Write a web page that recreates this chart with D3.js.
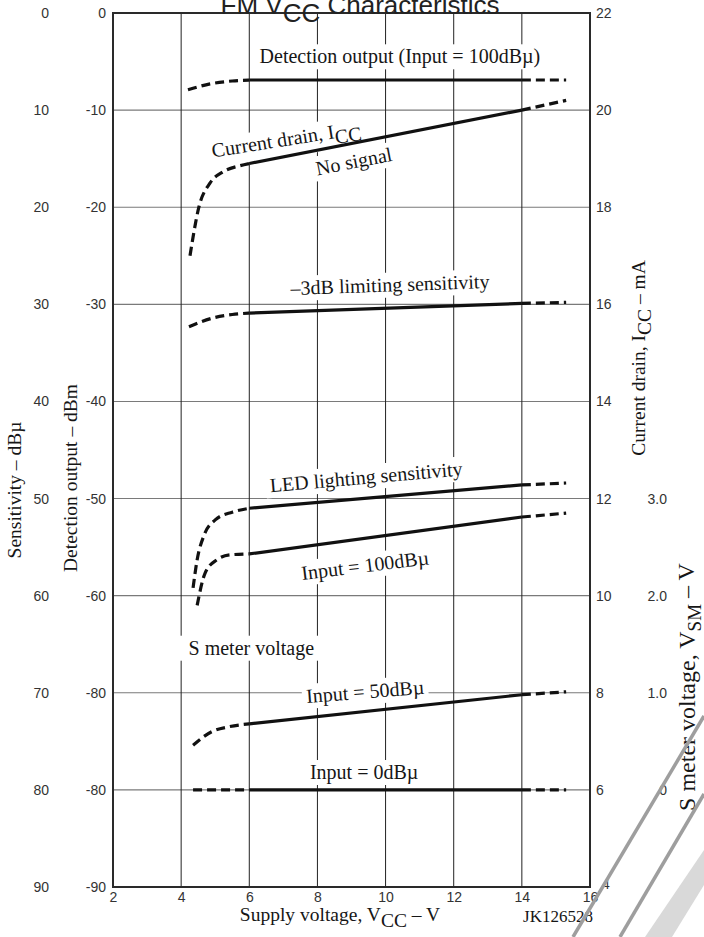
<!DOCTYPE html>
<html>
<head>
<meta charset="utf-8">
<script src="https://cdn.jsdelivr.net/npm/d3@7"></script>
<style>
  body { margin: 0; background: #fff; }
  svg { display: block; }
  .tick text { font-family: 'Liberation Sans', Arial, sans-serif; font-size: 14px; fill: #333; }
  .serif { font-family: 'Liberation Serif', 'Times New Roman', serif; fill: #161616; }
</style>
</head>
<body>
<svg id="chart" width="704" height="937"></svg>
<script>
// ---- data ----
const xTicks = [2, 4, 6, 8, 10, 12, 14, 16]
const sensTicks = [0, 10, 20, 30, 40, 50, 60, 70, 80, 90]
const detTickLabels = ['0', '-10', '-20', '-30', '-40', '-50', '-60', '-80', '-80', '-90']
const iccTicks = [22, 20, 18, 16, 14, 12, 10, 8, 6, 4]
const smTicks = [0, 1, 2, 3]

// [supply voltage V, value]
const detOutput = [[4.2, -7.9], [4.85, -7.3], [5.5, -7.0], [6, -6.9], [14, -6.9], [15.3, -6.9]] // dBm
const iccNoSignal = [[4.26, 17.0], [4.52, 18.0], [4.85, 18.5], [5.23, 18.73], [5.7, 18.85], [6, 18.9], [14, 20.0], [15.3, 20.2]] // mA
const limiting3dB = [[4.23, 32.3], [4.94, 31.4], [5.5, 31.05], [6, 30.9], [14, 29.9], [15.3, 29.8]] // dBu
const ledSens = [[4.35, 59.2], [4.47, 56.3], [4.67, 53.8], [5.0, 52.2], [5.5, 51.4], [6, 51.0], [14, 48.6], [15.3, 48.4]] // dBu
const smInput100 = [[4.47, 1.9], [4.7, 2.23], [5.05, 2.37], [5.43, 2.42], [6, 2.43], [14, 2.81], [15.3, 2.85]] // V
const smInput50 = [[4.35, 0.46], [4.9, 0.6], [5.4, 0.65], [6, 0.68], [14, 0.98], [15.3, 1.01]] // V
const smInput0 = [[4.35, 0], [6, 0], [14, 0], [15.3, 0]] // V

// ---- scales ----
const x = d3.scaleLinear().domain([2, 16]).range([113, 590])
const ySens = d3.scaleLinear().domain([0, 90]).range([13, 887])
const yDet = d3.scaleLinear().domain([0, -90]).range([13, 887])
const yIcc = d3.scaleLinear().domain([22, 4]).range([13, 887])
const ySm = d3.scaleLinear().domain([0, 3]).range([ySens(80), ySens(50)])

const svg = d3.select('#chart')

// rich text helper: parts = [[text, isSub], ...]
function rich(sel, parts, subSize) {
  let prevSub = false
  parts.forEach(p => {
    const t = sel.append('tspan').text(p[0])
    if (p[1]) {
      t.attr('dy', '0.3em')
      if (subSize) t.attr('font-size', subSize)
    } else if (prevSub) t.attr('dy', '-0.3em')
    prevSub = !!p[1]
  })
  return sel
}

// ---- grid ----
const grid = svg.append('g')
grid.selectAll('.hl')
  .data(sensTicks.slice(1, -1))
  .join('line')
  .attr('x1', x(2)).attr('x2', x(16))
  .attr('y1', d => ySens(d)).attr('y2', d => ySens(d))
  .attr('stroke', '#7a7a7a').attr('stroke-width', 1.1)
grid.selectAll('.vl')
  .data(xTicks.slice(1, -1))
  .join('line')
  .attr('x1', d => x(d)).attr('x2', d => x(d))
  .attr('y1', ySens(0)).attr('y2', ySens(90))
  .attr('stroke', '#222').attr('stroke-width', 1)

// ---- curve labels (white boxes cut the grid) ----
const labels = [
  { parts: [['Detection output (Input = 100dBµ)', 0]], v: 10.42, s: 4.5, a: 0 },
  { parts: [['Current drain, I', 0], ['CC', 1]], v: 7.08, s: 13.0, a: -9 },
  { parts: [['No signal', 0]], v: 9.07, s: 15.3, a: -11 },
  { parts: [['–3dB limiting sensitivity', 0]], v: 10.13, s: 28.0, a: -2 },
  { parts: [['LED lighting sensitivity', 0]], v: 9.43, s: 47.8, a: -5 },
  { parts: [['Input = 100dBµ', 0]], v: 9.4, s: 56.9, a: -7 },
  { parts: [['S meter voltage', 0]], v: 6.06, s: 65.4, a: 0, pad: 9 },
  { parts: [['Input = 50dBµ', 0]], v: 9.4, s: 69.9, a: -4.5 },
  { parts: [['Input = 0dBµ', 0]], v: 9.37, s: 78.2, a: 0 }
]
const lab = svg.append('g')
labels.forEach(l => {
  const g = lab.append('g')
    .attr('transform', `translate(${x(l.v)},${ySens(l.s)}) rotate(${l.a})`)
  const rect = g.append('rect').attr('fill', '#fff')
  const t = g.append('text')
    .attr('class', 'serif')
    .attr('text-anchor', 'middle')
    .attr('dy', '0.33em')
    .attr('font-size', 20)
  rich(t, l.parts)
  const b = t.node().getBBox()
  const pad = l.pad || 4
  rect.attr('x', b.x - pad).attr('y', b.y - 1).attr('width', b.width + pad * 2).attr('height', b.height + 2)
})

// ---- frame ----
svg.append('rect')
  .attr('x', x(2)).attr('y', ySens(0))
  .attr('width', x(16) - x(2)).attr('height', ySens(90) - ySens(0))
  .attr('fill', 'none').attr('stroke', '#2a2a2a').attr('stroke-width', 2)

// ---- curves ----
const line = d3.line().x(d => x(d[0])).curve(d3.curveMonotoneX)
const series = [
  { data: detOutput, y: yDet },
  { data: iccNoSignal, y: yIcc },
  { data: limiting3dB, y: ySens },
  { data: ledSens, y: ySens },
  { data: smInput100, y: ySm },
  { data: smInput50, y: ySm },
  { data: smInput0, y: ySm }
]
const curves = svg.append('g').attr('fill', 'none').attr('stroke', '#111')
series.forEach(s => {
  line.y(d => s.y(d[1]))
  const parts = [
    { pts: s.data.filter(d => d[0] <= 6), dash: true },
    { pts: s.data.filter(d => d[0] >= 6 && d[0] <= 14), dash: false },
    { pts: s.data.filter(d => d[0] >= 14), dash: true }
  ]
  parts.forEach(p => {
    curves.append('path')
      .attr('d', line(p.pts))
      .attr('stroke-width', 3.2)
      .attr('stroke-dasharray', p.dash ? '9,5' : null)
  })
})

// ---- axes ----
svg.append('g')
  .attr('transform', `translate(0,${ySens(90)})`)
  .call(d3.axisBottom(x).tickValues(xTicks).tickSize(0).tickPadding(5))
  .call(g => g.select('.domain').remove())

svg.append('g')
  .attr('transform', `translate(${x(2)},0)`)
  .call(d3.axisLeft(ySens).tickValues(sensTicks).tickFormat((d, i) => detTickLabels[i]).tickSize(0).tickPadding(7))
  .call(g => g.select('.domain').remove())

svg.append('g')
  .attr('transform', 'translate(49,0)')
  .call(d3.axisLeft(ySens).tickValues(sensTicks).tickSize(0).tickPadding(0))
  .call(g => g.select('.domain').remove())

svg.append('g')
  .attr('transform', `translate(${x(16)},0)`)
  .call(d3.axisRight(yIcc).tickValues(iccTicks).tickSize(0).tickPadding(6))
  .call(g => g.select('.domain').remove())
  .call(g => g.selectAll('.tick').filter(d => d === 4).select('text').attr('transform', 'translate(6,-3)'))

svg.append('g')
  .attr('transform', 'translate(667,0)')
  .call(d3.axisLeft(ySm).tickValues(smTicks).tickFormat(d => (d === 0 ? '0' : d3.format('.1f')(d))).tickSize(0).tickPadding(0))
  .call(g => g.select('.domain').remove())

// ---- titles ----
rich(svg.append('text')
  .attr('x', 360).attr('y', 14)
  .attr('text-anchor', 'middle')
  .attr('font-family', "'Liberation Sans', Arial, sans-serif")
  .attr('font-size', 26).attr('fill', '#222'),
[['FM V', 0], ['CC', 1], [' Characteristics', 0]])

rich(svg.append('text').attr('class', 'serif')
  .attr('x', 340).attr('y', 921)
  .attr('text-anchor', 'middle').attr('font-size', 19.5),
[['Supply voltage, V', 0], ['CC', 1], [' – V', 0]])

svg.append('text').attr('class', 'serif')
  .attr('transform', 'translate(21,490) rotate(-90)')
  .attr('text-anchor', 'middle').attr('font-size', 19.5)
  .text('Sensitivity – dBµ')

svg.append('text').attr('class', 'serif')
  .attr('transform', 'translate(77,478) rotate(-90)')
  .attr('text-anchor', 'middle').attr('font-size', 19.5)
  .text('Detection output – dBm')

rich(svg.append('text').attr('class', 'serif')
  .attr('transform', 'translate(645,358) rotate(-90)')
  .attr('text-anchor', 'middle').attr('font-size', 19.5),
[['Current drain, I', 0], ['CC', 1], [' – mA', 0]])

rich(svg.append('text').attr('class', 'serif')
  .attr('transform', 'translate(695,687) rotate(-90)')
  .attr('text-anchor', 'middle').attr('font-size', 24),
[['S meter voltage, V', 0], ['SM', 1], [' – V', 0]], 19)

svg.append('text').attr('class', 'serif')
  .attr('x', 593).attr('y', 922)
  .attr('text-anchor', 'end').attr('font-size', 17)
  .text('JK126528')

// ---- watermark strokes at bottom right ----
const wm = svg.append('g').attr('stroke', '#9e9e9e').attr('stroke-width', 3.5)
wm.append('line').attr('x1', 573).attr('y1', 937).attr('x2', 704).attr('y2', 716)
wm.append('line').attr('x1', 620).attr('y1', 937).attr('x2', 704).attr('y2', 794)
svg.append('polygon')
  .attr('points', '645,937 704,850 704,885 672,937')
  .attr('fill', '#d9d9d9')
</script>
</body>
</html>
